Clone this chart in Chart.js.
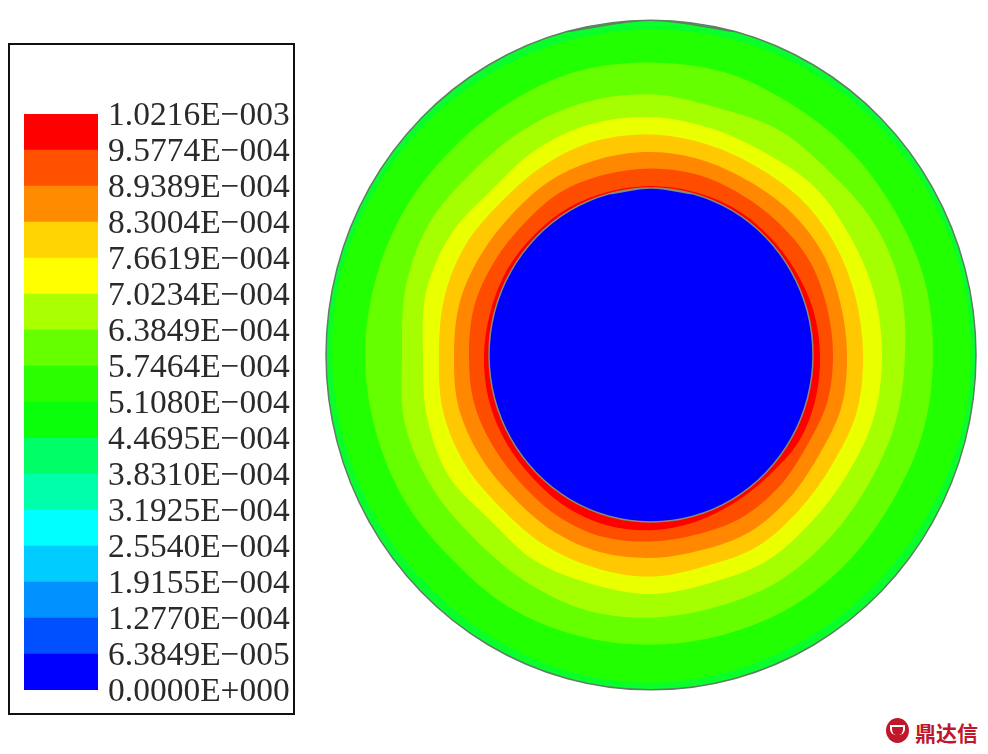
<!DOCTYPE html>
<html>
<head>
    <title>Contour plot</title>
    <script src="https://cdn.jsdelivr.net/npm/chart.js"></script>
    <style>
        html, body { margin: 0; padding: 0; background: #fff; width: 988px; height: 754px; overflow: hidden; }
        #frame { position: absolute; left: 8px; top: 43px; width: 283px; height: 668px; border: 2px solid #111; }
        #barCanvas { position: absolute; left: 0; top: 0; }
        #contourCanvas { position: absolute; left: 321px; top: 15px; }
        #logo { position: absolute; left: 886px; top: 718px; width: 23px; height: 25px; border-radius: 50%; background: #c0172b; }
        #logo div { position: absolute; left: 4px; top: 7px; width: 11px; height: 8px; border: 2px solid #fff; border-bottom: 0; border-radius: 0 0 6px 6px; }
        #mark { position: absolute; left: 915px; top: 717px; font: bold 21px "Noto Sans CJK SC"; line-height: 30px; color: #c0172b; }
    </style>
</head>
<body>
    <div id="frame"></div>
    <canvas id="barCanvas" width="300" height="754"></canvas>
    <canvas id="contourCanvas" width="660" height="680"></canvas>
    <div id="logo"><div></div></div>
    <div id="mark">鼎达信</div>

    <script>
        // colour bar levels, bottom to top
        const levelValues = [0, 6.3849e-5, 1.2770e-4, 1.9155e-4, 2.5540e-4, 3.1925e-4, 3.8310e-4, 4.4695e-4, 5.1080e-4,
            5.7464e-4, 6.3849e-4, 7.0234e-4, 7.6619e-4, 8.3004e-4, 8.9389e-4, 9.5774e-4, 1.0216e-3];
        const levelLabels = ['0.0000E+000', '6.3849E\u2212005', '1.2770E\u2212004', '1.9155E\u2212004', '2.5540E\u2212004',
            '3.1925E\u2212004', '3.8310E\u2212004', '4.4695E\u2212004', '5.1080E\u2212004', '5.7464E\u2212004',
            '6.3849E\u2212004', '7.0234E\u2212004', '7.6619E\u2212004', '8.3004E\u2212004', '8.9389E\u2212004',
            '9.5774E\u2212004', '1.0216E\u2212003'];
        const bandColors = ['#0000ff', '#0050ff', '#0090ff', '#00ccff', '#00ffff', '#00ffaa', '#00ff66', '#0aff0a',
            '#2aff00', '#66ff00', '#aaff00', '#ffff00', '#ffd400', '#ff8c00', '#ff5000', '#ff0000'];

        // contour edges: radius read every 15 degrees, clockwise from the top
        const angles = [0, 15, 30, 45, 60, 75, 90, 105, 120, 135, 150, 165, 180, 195, 210, 225, 240, 255, 270, 285, 300, 315, 330, 345];
        const blueEdge = [162, 162, 162, 162, 162, 162, 162, 162, 162, 162, 162, 162, 162, 162, 162, 162, 162, 162, 162, 162, 162, 162, 162, 162];
        const redEdge = [164, 164, 165, 165, 166, 168, 169, 170, 170, 166, 166, 168, 170, 171, 170, 168, 168, 168, 167, 166, 166, 165, 165, 164];
        const orangeRedEdge = [181, 181, 180, 181, 183, 182, 182, 182, 179, 181, 182, 180, 181, 183, 182, 180, 181, 183, 182, 183, 181, 180, 182, 181];
        const orangeEdge = [197, 196, 195, 197, 198, 196, 196, 197, 194, 196, 198, 196, 197, 198, 197, 195, 197, 199, 197, 198, 196, 195, 197, 197];
        const goldEdge = [214, 212, 211, 213, 213, 212, 212, 213, 210, 211, 214, 212, 215, 214, 213, 211, 214, 215, 212, 214, 214, 211, 213, 215];
        const yellowEdge = [231, 228, 227, 231, 230, 231, 231, 231, 228, 228, 231, 229, 232, 230, 231, 227, 234, 232, 228, 233, 232, 226, 230, 232];
        const yellowGreenEdge = [253, 249, 253, 252, 257, 258, 254, 253, 251, 252, 254, 253, 255, 256, 253, 251, 254, 255, 249, 254, 256, 252, 253, 254];
        const limeEdge = [284, 284, 281, 281, 281, 283, 282, 282, 280, 281, 282, 281, 281, 282, 283, 281, 284, 285, 286, 285, 284, 282, 283, 285];
        const greenEdge = [316, 317, 318, 318, 319, 320, 320, 319, 317, 316, 316, 317, 318, 318, 317, 316, 317, 318, 319, 320, 319, 318, 317, 316];
        const outerEdge = [325, 325, 325, 325, 325, 325, 325, 325, 325, 325, 325, 325, 325, 325, 325, 325, 325, 325, 325, 325, 325, 325, 325, 325];

        function edgePoints(radii) {
            let pts = radii.map((r, i) => {
                let a = angles[i] * Math.PI / 180;
                return {x: r * Math.sin(a), y: r * Math.cos(a)};
            });
            // overlap the ends so the curve stays smooth where it closes
            return [pts[pts.length - 1], ...pts, pts[0], pts[1]];
        }

        function bandDataset(radii, color, border) {
            return {
                data: edgePoints(radii),
                showLine: true,
                fill: 'shape',
                backgroundColor: color,
                borderColor: border || color,
                borderWidth: border ? 1.5 : 0,
                pointRadius: 0,
                tension: 0.335
            };
        }

        // first dataset is painted last, so the inner circle goes first
        new Chart(document.getElementById('contourCanvas'), {
            type: 'scatter',
            data: {
                datasets: [
                    bandDataset(blueEdge, '#0000ff', '#8a8a70'),
                    bandDataset(redEdge, '#ff0000'),
                    bandDataset(orangeRedEdge, '#ff4d00'),
                    bandDataset(orangeEdge, '#ff8800'),
                    bandDataset(goldEdge, '#ffc800'),
                    bandDataset(yellowEdge, '#eaff00'),
                    bandDataset(yellowGreenEdge, '#a5ff00'),
                    bandDataset(limeEdge, '#66ff00'),
                    bandDataset(greenEdge, '#22ff00'),
                    bandDataset(outerEdge, '#0aff2a', '#5f7f63')
                ]
            },
            options: {
                responsive: false,
                animation: false,
                layout: {padding: 0},
                plugins: {legend: {display: false}, tooltip: {enabled: false}},
                scales: {
                    x: {type: 'linear', min: -330, max: 330, display: false},
                    y: {type: 'linear', min: -330, max: 330, display: false}
                }
            }
        });

        new Chart(document.getElementById('barCanvas'), {
            type: 'bar',
            data: {
                labels: [''],
                datasets: bandColors.map((c, i) => ({
                    data: [levelValues[i + 1] - levelValues[i]],
                    backgroundColor: c,
                    barPercentage: 1,
                    categoryPercentage: 1
                }))
            },
            options: {
                responsive: false,
                animation: false,
                layout: {padding: {left: 24, top: 114, bottom: 64, right: 0}},
                plugins: {legend: {display: false}, tooltip: {enabled: false}},
                scales: {
                    x: {stacked: true, display: false},
                    y: {
                        stacked: true,
                        position: 'right',
                        min: 0,
                        max: levelValues[levelValues.length - 1],
                        grid: {display: false, drawTicks: false},
                        border: {display: false},
                        afterBuildTicks: (scale) => { scale.ticks = levelValues.map(v => ({value: v})); },
                        afterFit: (scale) => { scale.width = 202; },
                        ticks: {
                            autoSkip: false,
                            padding: 10,
                            labelOffset: 2,
                            color: '#2a2a2a',
                            font: {family: 'Liberation Serif', size: 33.5},
                            callback: (value, index) => levelLabels[index]
                        }
                    }
                }
            }
        });
    </script>
</body>
</html>
